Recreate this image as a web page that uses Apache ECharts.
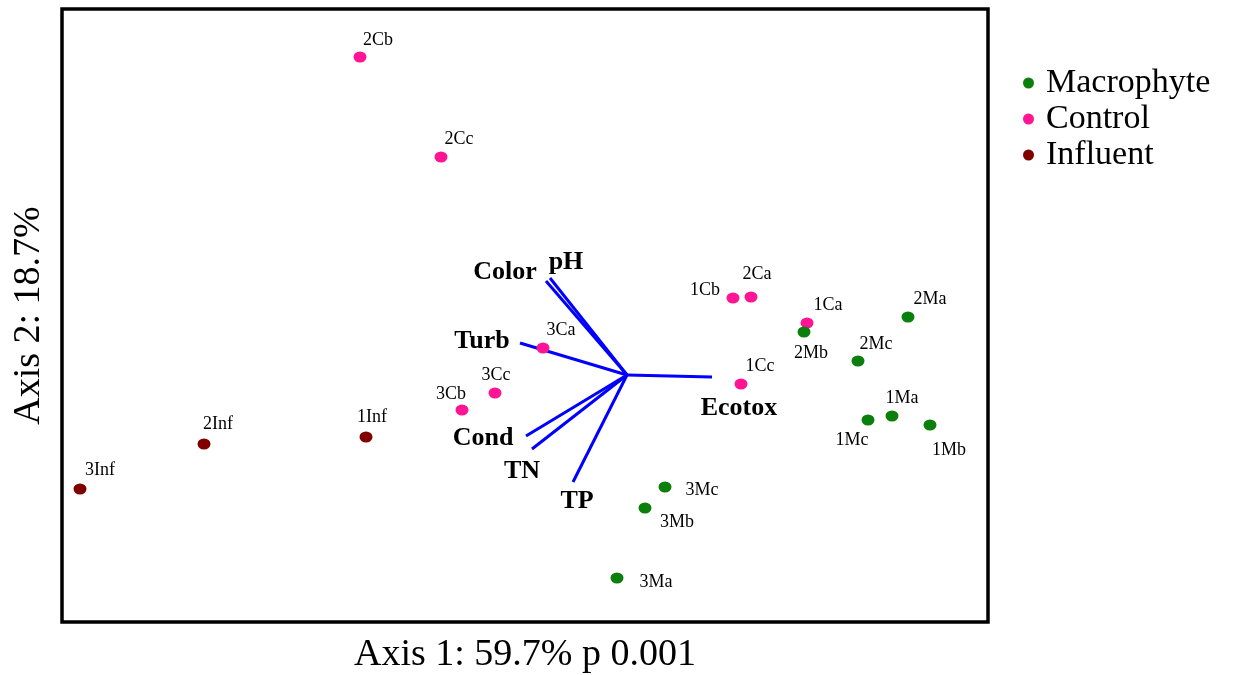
<!DOCTYPE html>
<html>
<head>
<meta charset="utf-8">
<script src="https://cdn.jsdelivr.net/npm/echarts@6/dist/echarts.min.js"></script>
<style>
html,body{margin:0;padding:0;background:#fff;}
#chart{width:1238px;height:675px;}
</style>
</head>
<body>
<div id="chart"></div>
<script>
// ---- Data ----
const macroNames = ['2Ma','2Mb','2Mc','1Ma','1Mb','1Mc','3Mc','3Mb','3Ma'];
const macroX = [2.81, 1.77, 2.31, 2.65, 3.03, 2.41, 0.38, 0.18, -0.10];
const macroY = [0.58, 0.43, 0.14, -0.41, -0.50, -0.45, -1.12, -1.33, -2.03];

const controlNames = ['2Cb','2Cc','1Cb','2Ca','1Ca','3Ca','3Cc','3Cb','1Cc'];
const controlX = [-2.67, -1.86, 1.06, 1.24, 1.80, -0.84, -1.32, -1.65, 1.14];
const controlY = [3.18, 2.18, 0.77, 0.78, 0.52, 0.27, -0.18, -0.35, -0.09];

const influentNames = ['1Inf','2Inf','3Inf'];
const influentX = [-2.61, -4.23, -5.47];
const influentY = [-0.62, -0.69, -1.14];

const vectorNames = ['Color','pH','Turb','Cond','TN','TP','Ecotox'];
const vectorX = [-0.81, -0.77, -1.07, -1.01, -0.95, -0.54, 0.85];
const vectorY = [0.94, 0.97, 0.32, -0.61, -0.74, -1.07, -0.02];

const xAxisTitle = 'Axis 1: 59.7% p 0.001';
const yAxisTitle = 'Axis 2: 18.7%';

// ---- Layout (label placement, pixels from the mark) ----
const labelOffsets = {
  '2Cb':[18,-17],'2Cc':[18,-18],'1Cb':[-28,-8],'2Ca':[6,-23],'1Ca':[21,-18],
  '3Ca':[18,-18],'3Cc':[1,-18],'3Cb':[-11,-16],'1Cc':[19,-18],
  '2Ma':[22,-18],'2Mb':[7,21],'2Mc':[18,-17],'1Ma':[10,-18],'1Mb':[19,25],
  '1Mc':[-16,20],'3Mc':[37,3],'3Mb':[32,14],'3Ma':[39,4],
  '1Inf':[6,-20],'2Inf':[14,-20],'3Inf':[20,-19]
};
const vectorLabelOffsets = {
  'Color':[-41,-9],'pH':[16,-16],'Turb':[-38,-2],'Cond':[-43,2],
  'TN':[-10,22],'TP':[4,19],'Ecotox':[27,31]
};

const FONT = '"Liberation Serif", "Times New Roman", serif';

function pts(names, xs, ys) {
  return names.map((n, i) => ({
    name: n,
    value: [xs[i], ys[i]],
    label: { offset: labelOffsets[n] || [0, -18] }
  }));
}

function scatter(name, color, names, xs, ys, z) {
  return {
    name: name,
    type: 'scatter',
    z: z,
    symbol: 'circle',
    symbolSize: [13, 11],
    itemStyle: { color: color, opacity: 1 },
    label: {
      show: true,
      position: 'inside',
      formatter: '{b}',
      color: '#000',
      textBorderWidth: 0,
      fontFamily: FONT,
      fontSize: 18
    },
    emphasis: { disabled: true },
    data: pts(names, xs, ys)
  };
}

const vectorLines = {
  type: 'lines',
  coordinateSystem: 'cartesian2d',
  z: 1,
  silent: true,
  lineStyle: { color: '#0000ff', width: 3, opacity: 1 },
  data: vectorNames.map((n, i) => ({ coords: [[0, 0], [vectorX[i], vectorY[i]]] }))
};

const vectorLabels = {
  type: 'custom',
  z: 2,
  silent: true,
  data: vectorNames.map((n, i) => [vectorX[i], vectorY[i], i]),
  renderItem: function (params, api) {
    const idx = api.value(2);
    const name = vectorNames[idx];
    const p = api.coord([api.value(0), api.value(1)]);
    const off = vectorLabelOffsets[name];
    return {
      type: 'text',
      x: p[0] + off[0],
      y: p[1] + off[1],
      style: {
        text: name,
        fill: '#000',
        font: 'bold 26px ' + FONT,
        align: 'center',
        verticalAlign: 'middle'
      }
    };
  }
};

const chart = echarts.init(document.getElementById('chart'), null, { renderer: 'canvas' });
chart.setOption({
  animation: false,
  backgroundColor: '#fff',
  grid: {
    left: 62, top: 9, width: 926, height: 613,
    outerBoundsMode: 'none',
    containLabel: false,
    show: true, borderColor: '#000', borderWidth: 3.5, backgroundColor: 'transparent'
  },
  xAxis: {
    type: 'value', min: -5.65, max: 3.61,
    name: xAxisTitle, nameLocation: 'middle', nameGap: 14,
    nameTextStyle: { fontFamily: FONT, fontSize: 38, color: '#000' },
    axisLine: { show: false }, axisTick: { show: false },
    axisLabel: { show: false }, splitLine: { show: false }
  },
  yAxis: {
    type: 'value', min: -2.47, max: 3.66,
    name: yAxisTitle, nameLocation: 'middle', nameGap: 14, nameRotate: 90,
    nameTextStyle: { fontFamily: FONT, fontSize: 38, color: '#000' },
    axisLine: { show: false }, axisTick: { show: false },
    axisLabel: { show: false }, splitLine: { show: false }
  },
  legend: {
    orient: 'vertical',
    left: 1018, top: 61,
    itemGap: 2,
    itemWidth: 13, itemHeight: 11,
    icon: 'circle',
    data: ['Macrophyte', 'Control', 'Influent'],
    textStyle: { fontFamily: FONT, fontSize: 34, color: '#000', lineHeight: 32, padding: [0, 0, 0, 6] },
    selectedMode: false
  },
  series: [
    vectorLines,
    vectorLabels,
    scatter('Macrophyte', '#0b7f0b', macroNames, macroX, macroY, 5),
    scatter('Control', '#ff1493', controlNames, controlX, controlY, 4),
    scatter('Influent', '#800000', influentNames, influentX, influentY, 4)
  ]
});
</script>
</body>
</html>
